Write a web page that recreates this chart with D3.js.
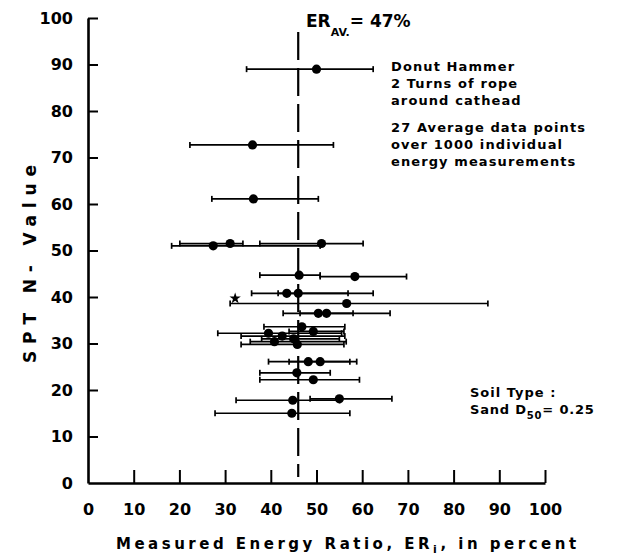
<!DOCTYPE html>
<html>
<head>
<meta charset="utf-8">
<script src="https://cdn.jsdelivr.net/npm/d3@7"></script>
<style>
  body { margin: 0; background: #fff; }
  text { font-family: "DejaVu Sans", sans-serif; font-weight: bold; fill: #000; }
</style>
</head>
<body>
<script>
// values (ER in percent, N blows/ft)
let nValue  = [89.0, 72.7, 61.1, 51.0, 51.5, 51.5, 44.7, 44.4, 40.8, 40.8, 38.6, 36.5, 36.5,
               33.6, 32.6, 32.2, 31.6, 31.0, 30.4, 29.8, 26.1, 26.1, 23.7, 22.2, 17.8, 18.1, 15.0];
let erMean  = [50.0, 36.0, 36.2, 27.4, 31.1, 51.1, 46.2, 58.4, 43.5, 46.0, 56.6, 50.4, 52.2,
               46.8, 49.3, 39.5, 42.5, 45.0, 40.8, 45.8, 48.2, 50.8, 45.7, 49.3, 44.8, 55.0, 44.6];
let erLow   = [34.7, 22.3, 27.1, 18.3, 20.1, 37.6, 37.6, 50.8, 35.8, 41.6, 31.1, 42.7, 46.4,
               38.5, 44.0, 28.4, 33.5, 38.0, 35.5, 33.5, 39.5, 44.0, 37.6, 37.6, 32.4, 48.6, 27.8];
let erHigh  = [62.4, 53.7, 50.4, 50.8, 33.9, 60.2, 50.8, 69.7, 56.9, 62.4, 87.5, 58.0, 66.1,
               56.2, 56.0, 55.5, 56.2, 55.0, 56.5, 56.0, 57.3, 58.8, 53.0, 59.4, 55.1, 66.5, 57.3];
let starPoint = [32.2, 39.7];
let avgER = 46;   // where the dashed line sits in the figure
let xTicks = [0, 10, 20, 30, 40, 50, 60, 70, 80, 90, 100];
let yTicks = [0, 10, 20, 30, 40, 50, 60, 70, 80, 90, 100];
let noteLines = ["Donut Hammer", "2 Turns of rope", "around cathead", "", "27 Average data points",
                 "over 1000 individual", "energy measurements"];

let width = 620, height = 557;

let svg = d3.select("body").append("svg")
    .attr("width", width)
    .attr("height", height);

let x = d3.scaleLinear().domain([0, 100]).range([88, 545]);
let y = d3.scaleLinear().domain([0, 100]).range([483, 18]);

let points = nValue.map((n, i) => ({n: n, er: erMean[i], lo: erLow[i], hi: erHigh[i]}));

// axes
let yAxis = svg.append("g")
    .attr("transform", `translate(${x(0)},0)`)
    .call(d3.axisLeft(y).tickValues(yTicks).tickSizeInner(-10).tickSizeOuter(0).tickPadding(15));
let xAxis = svg.append("g")
    .attr("transform", `translate(0,${y(0)})`)
    .call(d3.axisBottom(x).tickValues(xTicks).tickSizeInner(-13).tickSizeOuter(0).tickPadding(18));

[xAxis, yAxis].forEach(g => {
    g.select(".domain").attr("stroke", "#000").attr("stroke-width", 2.6);
    g.selectAll(".tick line").attr("stroke", "#000").attr("stroke-width", 2);
    g.selectAll(".tick text")
        .style("font-family", '"DejaVu Sans", sans-serif')
        .style("font-weight", "bold")
        .style("font-size", "16px")
        .attr("fill", "#000");
});
xAxis.selectAll(".tick").filter(d => d === 0).select("line").remove();
yAxis.selectAll(".tick").filter(d => d === 0).select("line").remove();
xAxis.selectAll(".tick text").attr("dy", "0.9em");

// dashed average line
svg.append("line")
    .attr("x1", x(avgER)).attr("x2", x(avgER))
    .attr("y1", y(97)).attr("y2", y(1.3))
    .attr("stroke", "#000")
    .attr("stroke-width", 2.2)
    .attr("stroke-dasharray", "28,8");

// error bars
let bars = svg.append("g").attr("class", "bars");
bars.selectAll("line.bar")
    .data(points)
    .enter().append("line")
    .attr("class", "bar")
    .attr("x1", d => x(d.lo)).attr("x2", d => x(d.hi))
    .attr("y1", d => y(d.n)).attr("y2", d => y(d.n))
    .attr("stroke", "#000").attr("stroke-width", 1.7);
bars.selectAll("line.capl")
    .data(points)
    .enter().append("line")
    .attr("class", "capl")
    .attr("x1", d => x(d.lo)).attr("x2", d => x(d.lo))
    .attr("y1", d => y(d.n) - 3).attr("y2", d => y(d.n) + 3)
    .attr("stroke", "#000").attr("stroke-width", 1.7);
bars.selectAll("line.capr")
    .data(points)
    .enter().append("line")
    .attr("class", "capr")
    .attr("x1", d => x(d.hi)).attr("x2", d => x(d.hi))
    .attr("y1", d => y(d.n) - 3).attr("y2", d => y(d.n) + 3)
    .attr("stroke", "#000").attr("stroke-width", 1.7);

// means
svg.append("g").selectAll("circle")
    .data(points)
    .enter().append("circle")
    .attr("cx", d => x(d.er))
    .attr("cy", d => y(d.n))
    .attr("r", 4.6)
    .attr("fill", "#000");

svg.append("path")
    .attr("d", d3.symbol(d3.symbolStar, 40)())
    .attr("transform", `translate(${x(starPoint[0])},${y(starPoint[1])})`)
    .attr("fill", "#000");

// ER average label
let erLab = svg.append("text").attr("x", 306).attr("y", 27).style("font-size", "17px");
erLab.append("tspan").text("ER");
erLab.append("tspan").attr("dy", 9).style("font-size", "11px").text("AV.");
erLab.append("tspan").attr("dy", -9).text("= 47%");

// notes
svg.append("g").selectAll("text")
    .data(noteLines)
    .enter().append("text")
    .attr("x", 391)
    .attr("y", (d, i) => 71 + i * 17 + (i > 3 ? -7 : 0))
    .style("font-size", "13px")
    .style("letter-spacing", "1.1px")
    .text(d => d);

svg.append("text").attr("x", 470).attr("y", 397)
    .style("font-size", "13px").style("letter-spacing", "1px")
    .text("Soil Type :");
let sand = svg.append("text").attr("x", 470).attr("y", 414)
    .style("font-size", "13px").style("letter-spacing", "0.8px");
sand.append("tspan").text("Sand D");
sand.append("tspan").attr("dy", 5).style("font-size", "10px").text("50");
sand.append("tspan").attr("dy", -5).text("= 0.25");

// axis titles
let xt = svg.append("text").attr("x", 116).attr("y", 549)
    .style("font-size", "15px").style("letter-spacing", "3.5px");
xt.append("tspan").text("Measured Energy Ratio, ER");
xt.append("tspan").attr("dy", 4).style("font-size", "11px").text("i");
xt.append("tspan").attr("dy", -4).text(", in percent");

svg.append("text")
    .attr("transform", "translate(36,264) rotate(-90)")
    .attr("text-anchor", "middle")
    .style("font-size", "17px")
    .attr("textLength", 198)
    .attr("lengthAdjust", "spacing")
    .text("SPT N- Value");
</script>
</body>
</html>
